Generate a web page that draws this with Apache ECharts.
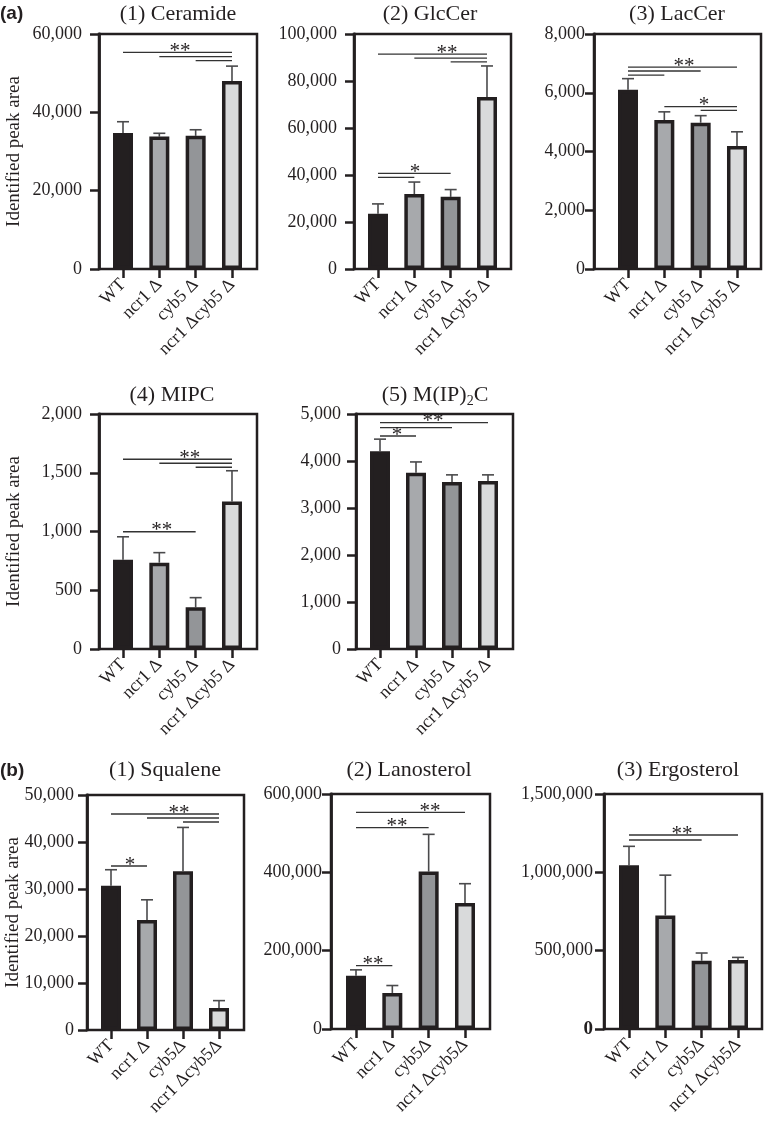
<!DOCTYPE html>
<html>
<head>
<meta charset="utf-8">
<script src="https://cdn.jsdelivr.net/npm/echarts@6/dist/echarts.min.js"></script>
<style>
html, body { margin: 0; padding: 0; background: #fff; }
#main { width: 764px; height: 1126px; }
</style>
</head>
<body>
<div id="main"></div>
<script>
var groupsA = ['WT', 'ncr1 Δ', 'cyb5 Δ', 'ncr1 Δcyb5 Δ'];
var groupsB = ['WT', 'ncr1 Δ', 'cyb5Δ', 'ncr1 Δcyb5Δ'];
var barColors = ['#231f20', '#a7a9ac', '#939598', '#d9dadb'];

// (a) sphingolipids: mean, SD, significance brackets [from, to, y], stars [pos, y, text]
var ceramideMean = [34700, 33800, 34000, 48000];
var ceramideSd = [2900, 850, 1550, 3800];
var ceramideSig = [[0, 3, 55300], [1, 3, 54200], [2, 3, 53200]];
var ceramideStars = [[1.57, 55300, '**']];

var glcCerMean = [23500, 31900, 30700, 73200];
var glcCerSd = [4200, 5100, 3100, 13200];
var glcCerSig = [[0, 3, 91400], [1, 3, 89700], [2, 3, 88100], [0, 2, 40700], [0, 1, 39000]];
var glcCerStars = [[1.9, 91400, '**'], [1.02, 40700, '*']];

var lacCerMean = [6100, 5070, 4980, 4190];
var lacCerSd = [380, 280, 240, 480];
var lacCerSig = [[0, 3, 6870], [0, 2, 6740], [0, 1, 6600], [1, 3, 5530], [2, 3, 5400]];
var lacCerStars = [[1.54, 6870, '**'], [2.09, 5530, '*']];

var mipcMean = [760, 735, 355, 1255];
var mipcSd = [195, 85, 82, 262];
var mipcSig = [[0, 3, 1615], [1, 3, 1581], [2, 3, 1547], [0, 2, 998]];
var mipcStars = [[1.84, 1615, '**'], [1.07, 998, '**']];

var mip2cMean = [4210, 3750, 3555, 3575];
var mip2cSd = [255, 230, 150, 130];
var mip2cSig = [[0, 3, 4815], [0, 2, 4709], [0, 1, 4532]];
var mip2cStars = [[1.47, 4815, '**'], [0.47, 4532, '*']];

// (b) sterols
var squaleneMean = [30700, 23400, 33800, 4700];
var squaleneSd = [3400, 4300, 9300, 1550];
var squaleneSig = [[0, 3, 45960], [1, 3, 45110], [2, 3, 44260], [0, 1, 34890]];
var squaleneStars = [[1.89, 45960, '**'], [0.53, 34890, '*']];

var lanosterolMean = [136000, 92000, 402000, 322000];
var lanosterolSd = [15000, 19000, 95000, 49000];
var lanosterolSig = [[0, 3, 553200], [0, 2, 514000], [0, 1, 161700]];
var lanosterolStars = [[2.04, 553200, '**'], [1.13, 514000, '**'], [0.47, 161700, '**']];

var ergosterolMean = [1045000, 725000, 436000, 440000];
var ergosterolSd = [121000, 257000, 49000, 17000];
var ergosterolSig = [[0, 3, 1238300], [0, 2, 1206400]];
var ergosterolStars = [[1.46, 1238300, '**']];

var SERIF = '"Liberation Serif", "Times New Roman", serif';
var INK = '#231f20';

// layout of each panel: box = [left, top, width, height], first bar centre, bar step
var panels = [
    { title: '(1) Ceramide', tx: 178, ty: 14, box: [99, 34, 158, 235], first: 123, step: 36.33, max: 60000, interval: 20000, margin: 17, cats: groupsA, mean: ceramideMean, sd: ceramideSd, sig: ceramideSig, stars: ceramideStars, yName: 75 },
    { title: '(2) GlcCer', tx: 430, ty: 14, box: [354, 34, 157, 235], first: 378, step: 36.33, max: 100000, interval: 20000, margin: 17, cats: groupsA, mean: glcCerMean, sd: glcCerSd, sig: glcCerSig, stars: glcCerStars },
    { title: '(3) LacCer', tx: 677, ty: 14, box: [594, 34, 167, 235], first: 628, step: 36.33, max: 8000, interval: 2000, margin: 9, cats: groupsA, mean: lacCerMean, sd: lacCerSd, sig: lacCerSig, stars: lacCerStars },
    { title: '(4) MIPC', tx: 172, ty: 395, box: [99, 414, 158, 235], first: 123, step: 36.33, max: 2000, interval: 500, margin: 17, cats: groupsA, mean: mipcMean, sd: mipcSd, sig: mipcSig, stars: mipcStars, yName: 75 },
    { title: '(5) M(IP){sub|2}C', tx: 435, ty: 395, box: [356, 414, 157, 235], first: 380, step: 36, max: 5000, interval: 1000, margin: 15, cats: groupsA, mean: mip2cMean, sd: mip2cSd, sig: mip2cSig, stars: mip2cStars },
    { title: '(1) Squalene', tx: 165, ty: 770, box: [87, 795, 157, 235], first: 111, step: 36, max: 50000, interval: 10000, margin: 13, cats: groupsB, mean: squaleneMean, sd: squaleneSd, sig: squaleneSig, stars: squaleneStars, yName: 64 },
    { title: '(2) Lanosterol', tx: 409, ty: 770, box: [331, 794, 159, 235], first: 356, step: 36.33, max: 600000, interval: 200000, margin: 9, cats: groupsB, mean: lanosterolMean, sd: lanosterolSd, sig: lanosterolSig, stars: lanosterolStars },
    { title: '(3) Ergosterol', tx: 678, ty: 770, box: [604, 794, 158, 235], first: 629, step: 36.33, max: 1500000, interval: 500000, margin: 11, cats: groupsB, mean: ergosterolMean, sd: ergosterolSd, sig: ergosterolSig, stars: ergosterolStars, boldZero: true }
];

var grid = [], xAxis = [], yAxis = [], series = [], graphic = [];

panels.forEach(function (p, i) {
    var b = p.box;
    var outer = 2 * i, inner = 2 * i + 1;
    // framed box carrying the value axis
    grid.push({ left: b[0], top: b[1], width: b[2], height: b[3], show: true, borderColor: INK, borderWidth: 2.5, backgroundColor: 'transparent', containLabel: false, outerBoundsMode: 'none' });
    // band area for the bars
    grid.push({ left: p.first - p.step / 2, top: b[1], width: p.step * 4, height: b[3], containLabel: false, outerBoundsMode: 'none' });

    xAxis.push({ gridIndex: outer, type: 'category', data: p.cats, show: false });
    yAxis.push({
        gridIndex: outer, type: 'value', min: 0, max: p.max, interval: p.interval,
        axisLine: { show: true, lineStyle: { color: INK, width: 2.8 } },
        axisTick: { show: true, length: 9, lineStyle: { color: INK, width: 2.5 } },
        splitLine: { show: false },
        axisLabel: {
            margin: p.margin, fontSize: 18, fontFamily: SERIF, color: INK,
            formatter: function (v) {
                if (p.boldZero && v === 0) return '{b|0}';
                return v.toLocaleString('en-US');
            },
            rich: { b: { fontSize: 19, fontWeight: 'bold', fontFamily: SERIF, color: INK } }
        },
        name: p.yName ? 'Identified peak area' : '',
        nameLocation: 'middle', nameGap: p.yName || 0, nameMoveOverlap: false,
        nameTextStyle: { fontSize: 19, fontFamily: SERIF, color: INK }
    });

    xAxis.push({
        gridIndex: inner, type: 'category', data: p.cats,
        axisLine: { show: false },
        axisTick: { show: true, alignWithLabel: true, interval: 0, length: 9, lineStyle: { color: INK, width: 2.5 } },
        axisLabel: { interval: 0, rotate: 45, margin: 13, fontSize: 18, fontFamily: SERIF, color: INK }
    });
    yAxis.push({ gridIndex: inner, type: 'value', min: 0, max: p.max, show: false, splitLine: { show: false } });

    // error bars (upper SD only)
    series.push({
        type: 'custom', xAxisIndex: inner, yAxisIndex: inner, z: 2, silent: true,
        data: p.mean.map(function (m, j) { return [j, m, m + p.sd[j]]; }),
        encode: { x: 0, y: [1, 2] },
        renderItem: function (params, api) {
            var a = api.coord([api.value(0), api.value(1)]);
            var t = api.coord([api.value(0), api.value(2)]);
            var st = { stroke: '#4a4a4c', lineWidth: 1.6 };
            return {
                type: 'group', children: [
                    { type: 'line', shape: { x1: a[0], y1: a[1], x2: t[0], y2: t[1] }, style: st },
                    { type: 'line', shape: { x1: t[0] - 6, y1: t[1], x2: t[0] + 6, y2: t[1] }, style: st }
                ]
            };
        }
    });

    series.push({
        type: 'bar', xAxisIndex: inner, yAxisIndex: inner, z: 3, barWidth: 20, silent: true,
        data: p.mean.map(function (m, j) { return { value: m, itemStyle: { color: barColors[j] } }; }),
        itemStyle: { borderColor: INK, borderWidth: 3.5 }
    });

    // significance brackets
    series.push({
        type: 'custom', xAxisIndex: inner, yAxisIndex: inner, z: 4, silent: true,
        data: p.sig,
        encode: { x: [0, 1], y: 2 },
        renderItem: function (params, api) {
            var a = api.coord([api.value(0), api.value(2)]);
            var c = api.coord([api.value(1), api.value(2)]);
            return { type: 'line', shape: { x1: a[0], y1: a[1], x2: c[0], y2: c[1] }, style: { stroke: '#333', lineWidth: 1.3 } };
        }
    });

    // stars
    series.push({
        type: 'custom', xAxisIndex: inner, yAxisIndex: inner, z: 5, silent: true,
        dimensions: [{ name: 'pos', type: 'number' }, { name: 'v', type: 'number' }],
        data: p.stars.map(function (s) { return [s[0], s[1]]; }),
        encode: { x: 0, y: 1 },
        renderItem: function (params, api) {
            var s = p.stars[params.dataIndex];
            var a = api.coord([0, s[1]]);
            var c = api.coord([1, s[1]]);
            var x = a[0] + (c[0] - a[0]) * s[0];
            return {
                type: 'text', x: x, y: a[1] - 1,
                style: { text: s[2], fontSize: 21, fontFamily: SERIF, fill: INK, align: 'center', verticalAlign: 'middle' }
            };
        }
    });

    graphic.push({
        type: 'text', x: p.tx, y: p.ty, silent: true,
        style: {
            text: p.title, fontSize: 22, fontFamily: SERIF, fill: INK, align: 'center', verticalAlign: 'middle',
            rich: { sub: { fontSize: 14, fontFamily: SERIF, fill: INK, padding: [12, 0, 0, 0] } }
        }
    });
});

graphic.push({ type: 'text', x: 0, y: 14, style: { text: '(a)', fontSize: 19, fontWeight: 'bold', fontFamily: '"Liberation Sans", Arial, sans-serif', fill: INK, verticalAlign: 'middle' } });
graphic.push({ type: 'text', x: 0, y: 771, style: { text: '(b)', fontSize: 19, fontWeight: 'bold', fontFamily: '"Liberation Sans", Arial, sans-serif', fill: INK, verticalAlign: 'middle' } });

var myChart = echarts.init(document.getElementById('main'));
myChart.setOption({
    backgroundColor: '#fff',
    animation: false,
    grid: grid,
    xAxis: xAxis,
    yAxis: yAxis,
    series: series,
    graphic: graphic
});
</script>
</body>
</html>
